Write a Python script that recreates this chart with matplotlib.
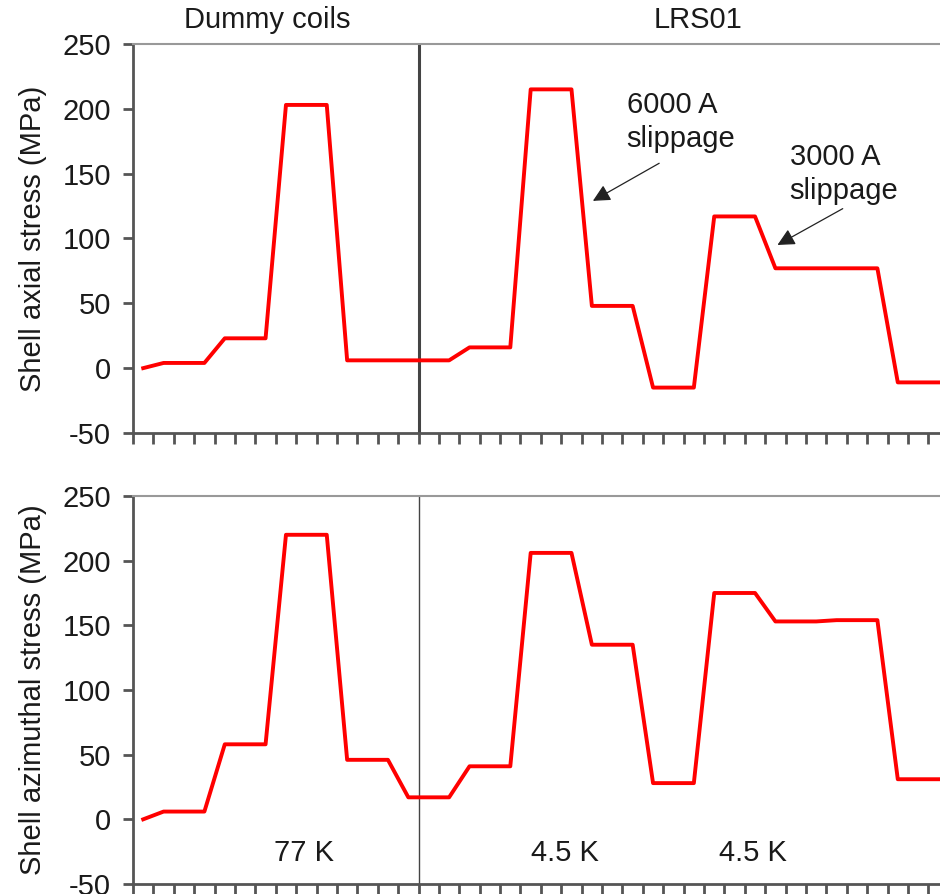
import matplotlib
matplotlib.use("Agg")
import matplotlib.pyplot as plt
import numpy as np

# shell stress at each load step (MPa)
axial_stress = [0, 4, 4, 4, 23, 23, 23, 203, 203, 203,
                6, 6, 6, 6, 6, 6, 16, 16, 16, 215,
                215, 215, 48, 48, 48, -15, -15, -15, 117, 117,
                117, 77, 77, 77, 77, 77, 77, -11, -11, -11]
azimuthal_stress = [0, 6, 6, 6, 58, 58, 58, 220, 220, 220,
                    46, 46, 46, 17, 17, 17, 41, 41, 41, 206,
                    206, 206, 135, 135, 135, 28, 28, 28, 175, 175,
                    175, 153, 153, 153, 154, 154, 154, 31, 31, 31]
n_dummy = 14  # steps measured on the dummy coils, the rest on LRS01
group_labels = ["Dummy coils", "LRS01"]
slip_labels = ["6000 A\nslippage", "3000 A\nslippage"]
temp_labels = ["77 K", "4.5 K", "4.5 K"]
y_ticks = [-50, 0, 50, 100, 150, 200, 250]

plt.rcParams["font.family"] = ["Liberation Sans", "DejaVu Sans"]
plt.rcParams["font.size"] = 21
plt.rcParams["axes.unicode_minus"] = False

steps = np.arange(len(axial_stress))
spine_color = "#555555"
text_color = "#1a1a1a"

fig = plt.figure(figsize=(9.4, 8.94), dpi=100)
ax_top = fig.add_axes([0.1415, 0.5157, 0.8585, 0.4351])
ax_bot = fig.add_axes([0.1415, 0.0112, 0.8585, 0.4340])


def style_axis(ax, ylabel, divider_lw):
    ax.set_xlim(-0.5, 39.07)
    ax.set_ylim(-50, 250)
    ax.set_yticks(y_ticks)
    ax.set_xticks(np.arange(len(steps)) - 0.5)
    ax.set_xticklabels([])
    ax.set_ylabel(ylabel, fontsize=21, color=text_color, labelpad=11)
    ax.spines["right"].set_visible(False)
    ax.spines["top"].set_color("#999999")
    ax.spines["top"].set_linewidth(1.5)
    for side in ("left", "bottom"):
        ax.spines[side].set_color(spine_color)
        ax.spines[side].set_linewidth(2)
    ax.tick_params(axis="x", direction="out", length=8, width=2, color=spine_color)
    ax.tick_params(axis="y", direction="out", length=7, width=2, color=spine_color,
                   labelcolor=text_color, pad=9)
    ax.axvline(n_dummy - 0.5, color="#444444", lw=divider_lw, zorder=1)


ax_top.plot(steps, axial_stress, color="red", lw=2.8, zorder=3)
style_axis(ax_top, "Shell axial stress (MPa)", 2.2)

ax_bot.plot(steps, azimuthal_stress, color="red", lw=2.8, zorder=3)
style_axis(ax_bot, "Shell azimuthal stress (MPa)", 1.0)

# group labels above the top panel
ax_top.text(6.1, 258, group_labels[0], ha="center", va="bottom", color=text_color)
ax_top.text(27.2, 258, group_labels[1], ha="center", va="bottom", color=text_color)

# slippage annotations: text, then arrow from below the text to the curve
arrow = dict(arrowstyle="-|>", color="#222222", lw=0.9, mutation_scale=26,
             shrinkA=0, shrinkB=0)
ax_top.text(23.7, 214, slip_labels[0], ha="left", va="top", color=text_color,
            linespacing=1.3)
ax_top.annotate("", xy=(22.05, 129), xytext=(25.3, 158), arrowprops=arrow)
ax_top.text(31.7, 174, slip_labels[1], ha="left", va="top", color=text_color,
            linespacing=1.3)
ax_top.annotate("", xy=(31.1, 95), xytext=(34.3, 123), arrowprops=arrow)

# temperature labels in the bottom panel
for x, label in zip([7.9, 20.7, 29.9], temp_labels):
    ax_bot.text(x, -26, label, ha="center", va="center", color=text_color)

fig.savefig("out.png", dpi=100)
